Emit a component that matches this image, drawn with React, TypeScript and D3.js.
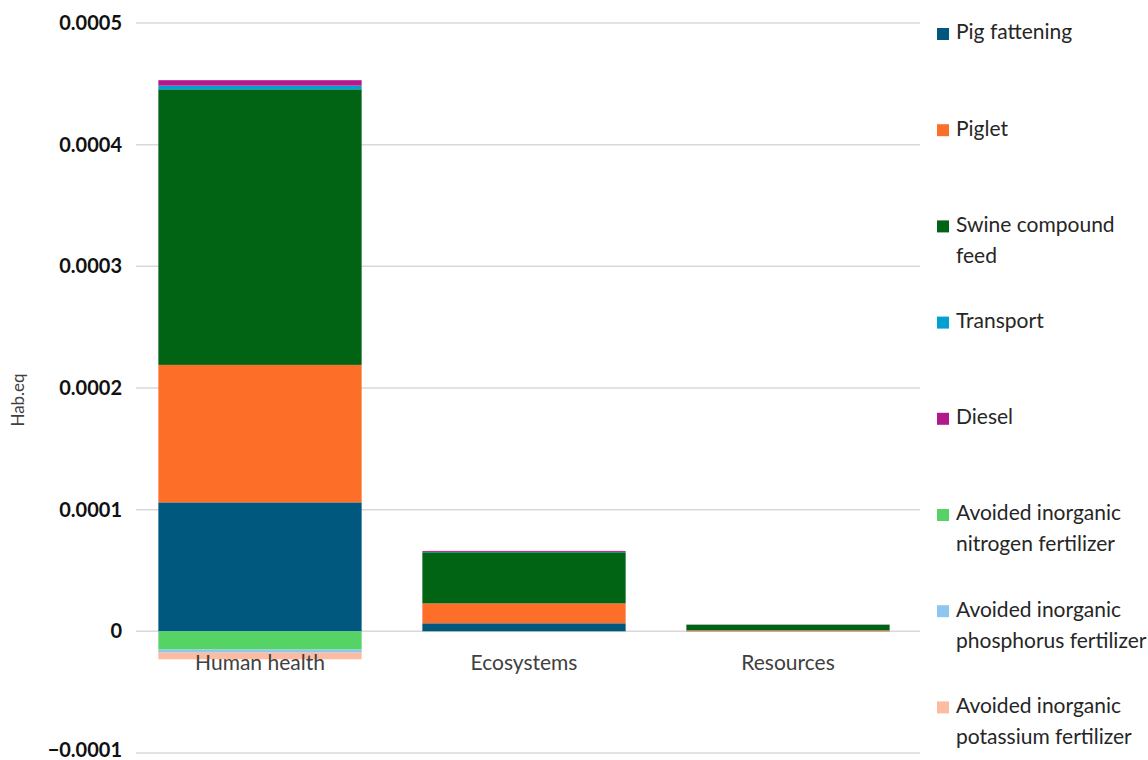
import React from "react";
import * as d3 from "d3";

const categories = ["Human health", "Ecosystems", "Resources"];
const seriesNames = [
  "Pig fattening",
  "Piglet",
  "Swine compound feed",
  "Transport",
  "Diesel",
  "Avoided inorganic nitrogen fertilizer",
  "Avoided inorganic phosphorus fertilizer",
  "Avoided inorganic potassium fertilizer",
];
const legendLines = [
  ["Pig fattening"],
  ["Piglet"],
  ["Swine compound", "feed"],
  ["Transport"],
  ["Diesel"],
  ["Avoided inorganic", "nitrogen fertilizer"],
  ["Avoided inorganic", "phosphorus fertilizer"],
  ["Avoided inorganic", "potassium fertilizer"],
];
const colors = ["#00587f", "#fd6e28", "#006414", "#00a0d2", "#b4198c", "#55d465", "#8ec6ef", "#fdbba0"];
// values per series, ordered by categories
const pigFattening = [1.06e-4, 6.6e-6, 3e-7];
const piglet = [1.13e-4, 1.64e-5, 6e-7];
const swineFeed = [2.265e-4, 4.2e-5, 4.5e-6];
const transport = [3e-6, 3e-7, 1e-7];
const diesel = [4.5e-6, 8e-7, 1e-7];
const avoidedN = [-1.5e-5, -2e-7, -1e-7];
const avoidedP = [-2.5e-6, -1e-7, -5e-8];
const avoidedK = [-5.5e-6, -2e-7, -3e-7];
const yTicks = [0.0005, 0.0004, 0.0003, 0.0002, 0.0001, 0, -0.0001];

const allSeries = [pigFattening, piglet, swineFeed, transport, diesel, avoidedN, avoidedP, avoidedK];

export default function App() {
  const W = 1148, H = 760;
  const font = "Lato, 'Open Sans', sans-serif";
  const x = d3.scaleBand<string>().domain(categories).range([128, 920]).paddingInner(0.23).paddingOuter(0.115);
  const y = d3.scaleLinear().domain([-0.0001, 0.0005]).range([753, 23]);

  const rows = categories.map((c, i) => {
    const r: any = { cat: c };
    seriesNames.forEach((s, j) => (r[s] = allSeries[j][i]));
    return r;
  });
  const stacked = d3.stack<any>().keys(seriesNames).offset(d3.stackOffsetDiverging)(rows);

  return (
    <svg width={W} height={H} style={{ position: "absolute", left: 0, top: 0, background: "#fff" }} fontFamily={font}>
      {yTicks.map((t) => (
        <g key={t}>
          <line x1={136} x2={920} y1={y(t)} y2={y(t)} stroke="#d9d9d9" strokeWidth={1.5} />
          <text x={122} y={y(t) + (t < 0 ? -1 : 2)} textAnchor="end" dominantBaseline="middle" fontSize={20} fontWeight="bold" fill="#111">
            {t === 0 ? "0" : t < 0 ? "\u22120.0001" : t.toFixed(4)}
          </text>
        </g>
      ))}
      {stacked.map((layer, j) => (
        <g key={layer.key} fill={colors[j]}>
          {layer.map((d, i) => {
            const y0 = y(d[0]);
            const y1 = y(d[1]);
            return (
              <rect key={i} x={x(categories[i])} width={x.bandwidth()} y={Math.min(y0, y1)} height={Math.abs(y0 - y1)} />
            );
          })}
        </g>
      ))}
      {categories.map((c) => (
        <text key={c} x={(x(c) as number) + x.bandwidth() / 2} y={665} textAnchor="middle" dominantBaseline="middle" fontSize={21} fill="#404040">
          {c}
        </text>
      ))}
      <text transform="translate(20,400) rotate(-90)" textAnchor="middle" dominantBaseline="middle" fontSize={17} fill="#404040">
        Hab.eq
      </text>
      {legendLines.map((lines, j) => {
        const y0 = 34 + j * 96.2;
        return (
          <g key={j}>
            <rect x={937} y={y0 - 6} width={12} height={12} fill={colors[j]} />
            {lines.map((ln, k) => (
              <text key={k} x={956} y={y0 + k * 31} dominantBaseline="middle" fontSize={21} fill="#262626">
                {ln}
              </text>
            ))}
          </g>
        );
      })}
    </svg>
  );
}
